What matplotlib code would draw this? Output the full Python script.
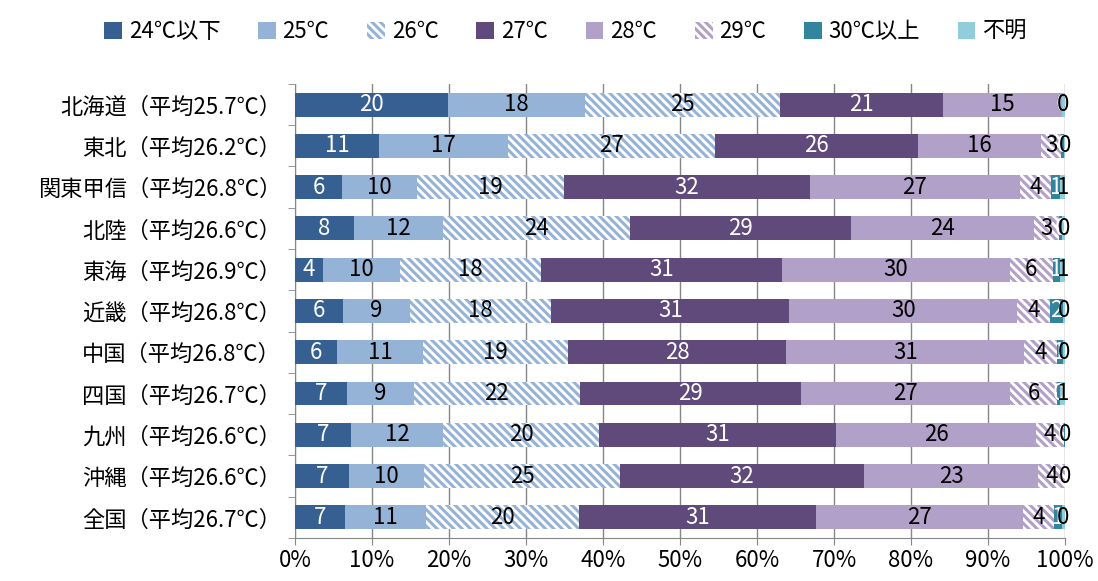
import numpy as np
import matplotlib.pyplot as plt
from matplotlib.patches import Patch

plt.rcParams['font.family'] = ['Noto Sans CJK JP', 'DejaVu Sans']
plt.rcParams['hatch.linewidth'] = 2.2

regions = ["北海道（平均25.7℃）", "東北（平均26.2℃）", "関東甲信（平均26.8℃）",
           "北陸（平均26.6℃）", "東海（平均26.9℃）", "近畿（平均26.8℃）",
           "中国（平均26.8℃）", "四国（平均26.7℃）", "九州（平均26.6℃）",
           "沖縄（平均26.6℃）", "全国（平均26.7℃）"]
temps = ["24℃以下", "25℃", "26℃", "27℃", "28℃", "29℃", "30℃以上", "不明"]

# share of answers (%) per region
t24 = [19.9, 10.9, 6.1, 7.6, 3.6, 6.2, 5.5, 6.8, 7.3, 7.0, 6.5]
t25 = [17.7, 16.7, 9.7, 11.6, 10.0, 8.7, 11.1, 8.6, 11.9, 9.8, 10.5]
t26 = [25.4, 26.9, 19.1, 24.3, 18.4, 18.4, 18.8, 21.6, 20.3, 25.4, 19.9]
t27 = [21.2, 26.4, 32.0, 28.7, 31.2, 30.9, 28.4, 28.7, 30.8, 31.7, 30.7]
t28 = [15.4, 16.0, 27.2, 23.8, 29.6, 29.6, 30.9, 27.2, 25.9, 22.6, 26.9]
t29 = [0.0, 2.6, 4.1, 3.2, 5.6, 4.3, 4.2, 6.1, 3.6, 3.5, 4.1]
t30 = [0.0, 0.4, 1.2, 0.45, 1.0, 1.6, 0.8, 0.4, 0.2, 0.0, 1.0]
unknown = [0.4, 0.1, 0.6, 0.35, 0.6, 0.3, 0.3, 0.6, 0.0, 0.0, 0.4]

series = [t24, t25, t26, t27, t28, t29, t30, unknown]
face = ["#366092", "#95B3D7", "white", "#604A7B", "#B1A0C7", "white", "#31859C", "#92CDDC"]
edge = ["#366092", "#95B3D7", "#95B3D7", "#604A7B", "#B1A0C7", "#B1A0C7", "#31859C", "#92CDDC"]
hatch = [None, None, "\\\\\\\\", None, None, "\\\\\\\\", None, None]
txt_col = ["white", "black", "black", "white", "black", "black", "white", "black"]

data = np.array(series, dtype=float)
pct = data / data.sum(axis=0) * 100

fig = plt.figure(figsize=(10.98, 5.81), dpi=100)
ax = fig.add_axes([0.2687, 0.074, 0.7013, 0.7816])

y = np.arange(len(regions))
left = np.zeros(len(regions))
for k in range(len(temps)):
    ax.barh(y, pct[k], left=left, height=0.58, color=face[k], edgecolor=edge[k],
            hatch=hatch[k], linewidth=0, zorder=3)
    for i in range(len(regions)):
        ax.text(left[i] + pct[k][i] / 2, y[i], str(int(data[k][i] + 0.5)),
                ha="center", va="center", color=txt_col[k], fontsize=16, zorder=4)
    left += pct[k]

ax.set_xlim(0, 100)
ax.set_ylim(len(regions) - 0.5, -0.5)
ax.set_xticks(np.arange(0, 101, 10))
ax.set_xticklabels([f"{v}%" for v in range(0, 101, 10)], fontsize=16)
ax.set_yticks(y)
ax.set_yticklabels(regions, fontsize=16)
ax.set_yticks(np.arange(-0.5, len(regions), 1), minor=True)
ax.tick_params(axis="y", which="major", length=0, pad=10)
ax.tick_params(axis="y", which="minor", length=5, color="#868686", direction="out")
ax.tick_params(axis="x", length=5, color="#868686", direction="out", pad=3)
ax.grid(axis="x", color="#868686", linewidth=1, zorder=0)
for s in ["top", "right"]:
    ax.spines[s].set_visible(False)
for s in ["left", "bottom"]:
    ax.spines[s].set_color("#868686")

handles = [Patch(facecolor=face[k], edgecolor=edge[k], hatch=hatch[k], linewidth=0)
           for k in range(len(temps))]
fig.legend(handles, temps, loc="upper center", bbox_to_anchor=(0.515, 1.0), ncol=8,
           frameon=False, fontsize=16, handlelength=0.8, handleheight=0.8,
           handletextpad=0.3, columnspacing=1.7)

fig.savefig("out.png", dpi=100)
